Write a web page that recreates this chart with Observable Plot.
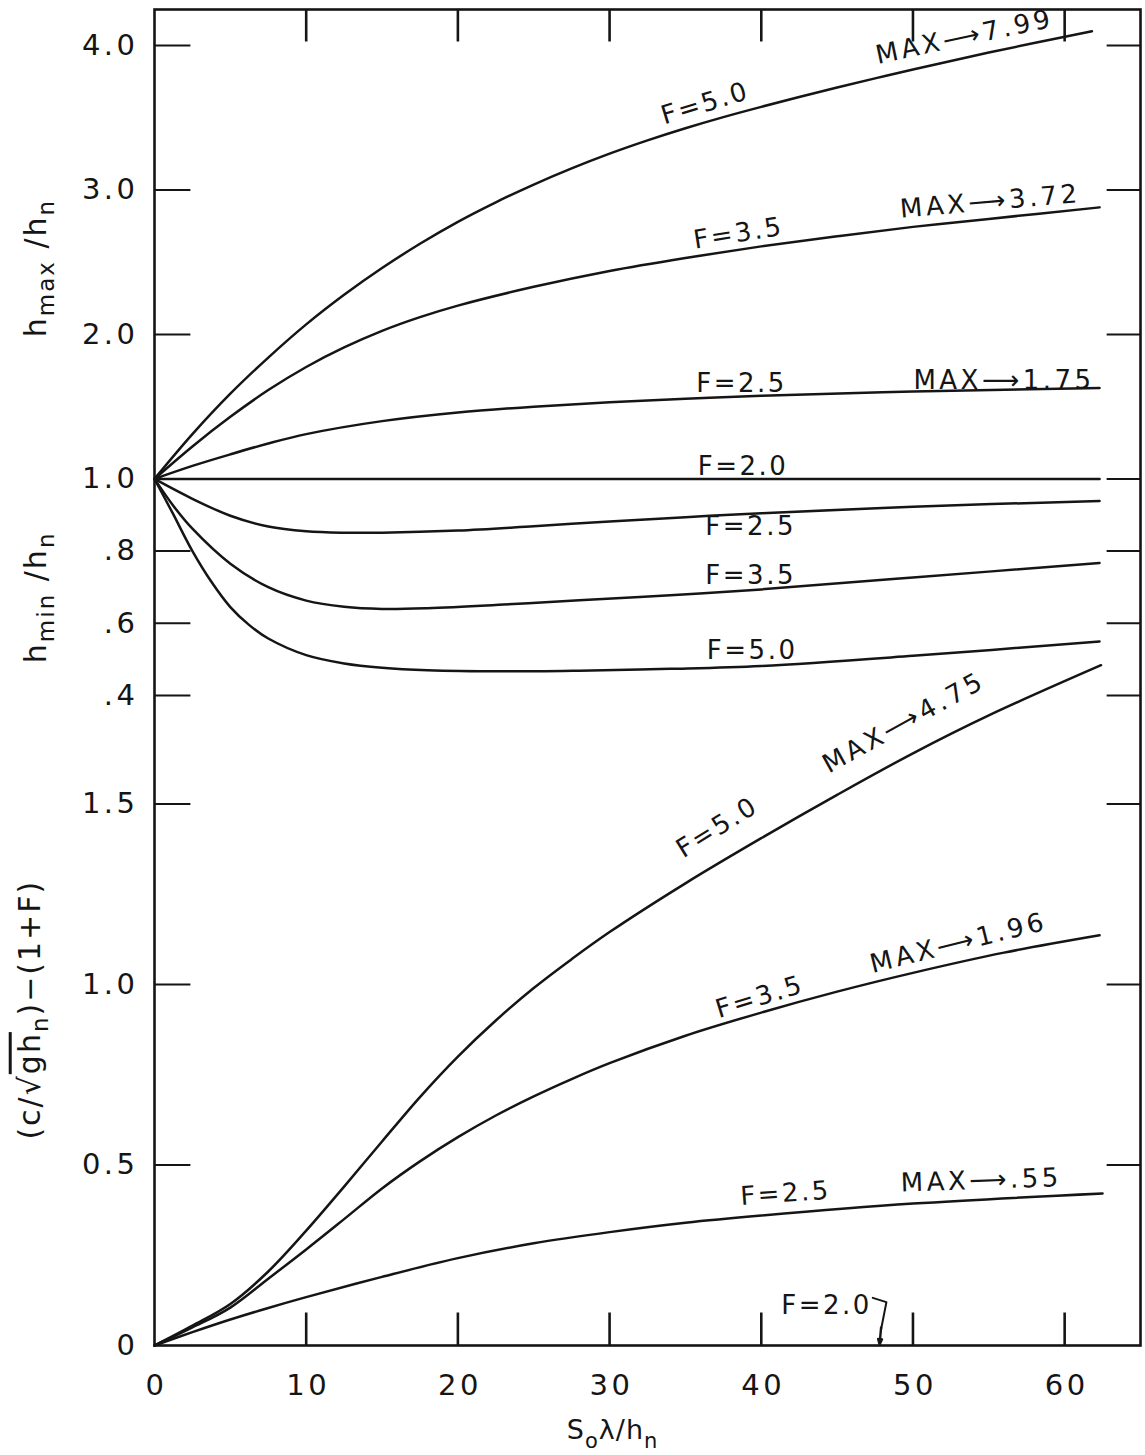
<!DOCTYPE html>
<html>
<head>
<meta charset="utf-8">
<script src="https://cdn.jsdelivr.net/npm/d3@7"></script>
<script src="https://cdn.jsdelivr.net/npm/@observablehq/plot@0.6"></script>
<style>
  html, body { margin: 0; padding: 0; background: #fff; }
  svg { display: block; }
</style>
</head>
<body>
<div id="chart"></div>
<script>
// ---------------- data ----------------
const xTicks = [0, 10, 20, 30, 40, 50, 60];
const xTickLabels = ["0", "10", "20", "30", "40", "50", "60"];

const hmaxTicks = [4.0, 3.0, 2.0, 1.0];
const hmaxTickLabels = ["4.0", "3.0", "2.0", "1.0"];
const hminTicks = [0.8, 0.6, 0.4];
const hminTickLabels = [".8", ".6", ".4"];
const celerityTicks = [1.5, 1.0, 0.5, 0];
const celerityTickLabels = ["1.5", "1.0", "0.5", "0"];

// h_max / h_n  (x = S0*lambda/hn)
const hmaxF50 = [[0,1.0],[2.5,1.31],[5,1.59],[7.5,1.84],[10,2.07],[12.5,2.275],[15,2.46],[17.5,2.628],[20,2.78],[22.5,2.915],[25,3.038],[27.5,3.15],[30,3.252],[32.5,3.344],[35,3.428],[37.5,3.505],[40,3.576],[42.5,3.644],[45,3.71],[47.5,3.773],[50,3.834],[55,3.952],[61.8,4.10]];
const hmaxF35 = [[0,1.0],[2.5,1.225],[5,1.43],[7.5,1.615],[10,1.775],[12.5,1.91],[15,2.025],[17.5,2.12],[20,2.20],[25,2.33],[30,2.44],[35,2.53],[40,2.61],[45,2.68],[50,2.745],[55,2.80],[62.3,2.88]];
const hmaxF25 = [[0,1.0],[2.5,1.09],[5,1.17],[7.5,1.245],[10,1.31],[15,1.40],[20,1.46],[25,1.50],[30,1.53],[35,1.555],[40,1.575],[50,1.605],[62.3,1.63]];
const hmaxF20 = [[0,1.0],[62.3,1.0]];

// h_min / h_n
const hminF25 = [[0,1.0],[2.5,0.945],[5,0.898],[7.5,0.868],[10,0.855],[12.5,0.851],[15,0.851],[20,0.857],[25,0.869],[30,0.882],[35,0.894],[40,0.905],[50,0.923],[62.3,0.939]];
const hminF35 = [[0,1.0],[1.25,0.925],[2.5,0.862],[5,0.765],[7.5,0.70],[10,0.663],[12.5,0.646],[15,0.64],[18,0.642],[23,0.652],[28,0.664],[34,0.678],[40,0.694],[50,0.727],[62.3,0.767]];
const hminF50 = [[0,1.0],[1.2,0.905],[2.5,0.80],[3.75,0.715],[5,0.645],[6.25,0.595],[7.5,0.558],[10,0.512],[12.5,0.489],[15,0.477],[18,0.47],[23,0.467],[28,0.469],[34,0.474],[40,0.482],[50,0.51],[62.3,0.55]];

// (c / sqrt(g hn)) - (1 + F)
const celF50 = [[0,0],[2.5,0.055],[5,0.115],[7.5,0.205],[10,0.318],[12.5,0.44],[15,0.565],[17.5,0.688],[20,0.80],[22.5,0.90],[25,0.99],[27.5,1.07],[30,1.145],[35,1.28],[40,1.405],[45,1.525],[50,1.64],[55,1.745],[62.4,1.884]];
const celF35 = [[0,0],[2.5,0.05],[5,0.105],[7.5,0.185],[10,0.266],[12.5,0.35],[15,0.435],[17.5,0.51],[20,0.577],[22.5,0.637],[25,0.69],[27.5,0.738],[30,0.782],[35,0.858],[40,0.922],[45,0.98],[50,1.032],[56,1.088],[62.3,1.136]];
const celF25 = [[0,0],[2.5,0.037],[5,0.072],[7.5,0.104],[10,0.134],[15,0.19],[20,0.242],[25,0.283],[30,0.314],[35,0.34],[40,0.36],[50,0.393],[62.5,0.421]];

// F=2.0 celerity is zero; its marker points at this abscissa
const celF20Marker = 47.8;

// curve annotations: [text, section, x, value-in-section, rotation]
const annotations = [
  ["F=5.0",     "max", 36.3, 3.60, -17],
  ["MAX\u27F67.99", "max", 53.4, 4.06, -12],
  ["F=3.5",     "max", 38.5, 2.70, -9],
  ["MAX\u27F63.72", "max", 55.1, 2.92, -5],
  ["F=2.5",     "max", 38.7, 1.66, 0],
  ["MAX\u27F61.75", "max", 56.0, 1.68, 0],
  ["F=2.0",     "min", 38.8, 1.035, 0],
  ["F=2.5",     "min", 39.3, 0.868, 0],
  ["F=3.5",     "min", 39.3, 0.733, 0],
  ["F=5.0",     "min", 39.4, 0.525, 0],
  ["F=5.0",     "cel", 37.1, 1.435, -32],
  ["MAX\u27F64.75", "cel", 49.4, 1.725, -29],
  ["F=3.5",     "cel", 39.9, 0.965, -17],
  ["MAX\u27F61.96", "cel", 53.0, 1.115, -14],
  ["F=2.5",     "cel", 41.6, 0.421, -4],
  ["MAX\u27F6.55",  "cel", 54.5, 0.457, -2],
  ["F=2.0",     "cel", 44.3, 0.111, 0]
];

// ------------- section mapping onto one shared vertical scale -------------
const toV = {
  max: h => 2 + 0.4 * h,   // h_max/h_n block (compressed 2.5x)
  min: m => m + 1.4,       // h_min/h_n block
  cel: c => c              // celerity block
};

const series = [
  ["max", "5.0", hmaxF50], ["max", "3.5", hmaxF35], ["max", "2.5", hmaxF25], ["max", "2.0", hmaxF20],
  ["min", "2.5", hminF25], ["min", "3.5", hminF35], ["min", "5.0", hminF50],
  ["cel", "5.0", celF50], ["cel", "3.5", celF35], ["cel", "2.5", celF25]
];
const lineData = series.flatMap(([sec, F, pts]) =>
  pts.map(([x, val]) => ({ id: sec + F, x, v: toV[sec](val) })));

const yLabelData = [
  ...hmaxTicks.map((d, i) => ({ v: toV.max(d), t: hmaxTickLabels[i] })),
  ...hminTicks.map((d, i) => ({ v: toV.min(d), t: hminTickLabels[i] })),
  ...celerityTicks.map((d, i) => ({ v: toV.cel(d), t: celerityTickLabels[i] }))
];
const leftTickV = [
  ...hmaxTicks.filter(d => d !== 1).map(toV.max),
  ...hminTicks.map(toV.min),
  ...celerityTicks.filter(d => d > 0).map(toV.cel)
];
const rightTickV = [
  ...hmaxTicks.map(toV.max),
  ...hminTicks.map(toV.min),
  ...celerityTicks.filter(d => d > 0).map(toV.cel)
];
const innerXTicks = xTicks.filter(d => d > 0);
const annData = annotations.map(([t, sec, x, val, r]) => ({ t, x, v: toV[sec](val), r, big: t.startsWith("MAX") }));

const titles = [
  { key: "T_HMAX", x: -7.8, v: toV.max(2.46) },
  { key: "T_HMIN", x: -7.8, v: toV.min(0.672) },
  { key: "T_CEL",  x: -8.2, v: toV.cel(0.93) }
];

const INK = "#151515";
const FONT = "'DejaVu Sans', 'Liberation Sans', sans-serif";

// letter spacing per text group (applied after render)
const spacing = { ylab: 3.5, xlab: 3.5, flab: 2.5, maxlab: 3.5, ytitle: 2, xtitle: 1 };

const plot = Plot.plot({
  width: 1145,
  height: 1455,
  marginLeft: 154,
  marginRight: 5,
  marginTop: 9,
  marginBottom: 110,
  x: { domain: [0, 65], axis: null },
  y: { domain: [0, 3.7], axis: null },
  style: { fontFamily: FONT, color: INK, background: "white", overflow: "visible" },
  marks: [
    Plot.frame({ stroke: INK, strokeWidth: 2.6 }),
    // inward ticks
    Plot.ruleY(leftTickV, { y: d => d, x1: 0, x2: 2.4, stroke: INK, strokeWidth: 2 }),
    Plot.ruleY(rightTickV, { y: d => d, x1: 62.8, x2: 65, stroke: INK, strokeWidth: 2 }),
    Plot.ruleX(innerXTicks, { x: d => d, y1: 3.7, y2: 3.61, stroke: INK, strokeWidth: 2.6 }),
    Plot.ruleX(innerXTicks, { x: d => d, y1: 0, y2: 0.09, stroke: INK, strokeWidth: 2.6 }),
    // curves
    Plot.line(lineData, { x: "x", y: "v", z: "id", curve: "catmull-rom", stroke: INK, strokeWidth: 2.5 }),
    // F=2.0 pointer
    Plot.line([[47.35, 0.132], [48.25, 0.12], [celF20Marker + 0.1, 0.045]], { x: d => d[0], y: d => d[1], stroke: INK, strokeWidth: 2 }),
    Plot.arrow([{ x1: celF20Marker + 0.1, y1: 0.05, x2: celF20Marker, y2: 0.003 }],
      { x1: "x1", y1: "y1", x2: "x2", y2: "y2", stroke: INK, strokeWidth: 2.4, headLength: 10, headAngle: 40 }),
    // tick labels
    Plot.text(yLabelData, { x: 0, y: "v", text: "t", dx: -16, textAnchor: "end", fontSize: 29, fill: INK, ariaDescription: "ylab" }),
    Plot.text(xTicks, { x: d => d, y: 0, text: (d, i) => xTickLabels[i], dx: 2, dy: 40, fontSize: 29, fill: INK, ariaDescription: "xlab" }),
    // curve annotations
    Plot.text(annData.filter(d => !d.big), { x: "x", y: "v", text: "t", rotate: "r", fontSize: 26, fill: INK, ariaDescription: "flab" }),
    Plot.text(annData.filter(d => d.big), { x: "x", y: "v", text: "t", rotate: "r", fontSize: 26, fill: INK, ariaDescription: "maxlab" }),
    // axis titles (rich text filled in below)
    Plot.text(titles, { x: "x", y: "v", text: "key", rotate: -90, fontSize: 30, fill: INK, ariaDescription: "ytitle" }),
    Plot.text(["T_X"], { x: 30.2, y: 0, text: d => d, dy: 85, fontSize: 27, fill: INK, ariaDescription: "xtitle" })
  ]
});

const svg = d3.select(plot);
Object.entries(spacing).forEach(([k, s]) => {
  svg.selectAll(`[aria-description="${k}"]`).attr("letter-spacing", s);
});

const rich = {
  T_HMAX: 'h<tspan dy="8" font-size="23">max</tspan><tspan dy="-8"> /h</tspan><tspan dy="8" font-size="23">n</tspan>',
  T_HMIN: 'h<tspan dy="8" font-size="23">min</tspan><tspan dy="-8"> /h</tspan><tspan dy="8" font-size="23">n</tspan>',
  T_CEL: '(c/\u221A<tspan style="text-decoration:overline">gh</tspan><tspan dy="8" font-size="23">n</tspan><tspan dy="-8">)\u2212(1+F)</tspan>',
  T_X: 'S<tspan dy="9" font-size="21">o</tspan><tspan dy="-9">\u03BB/h</tspan><tspan dy="9" font-size="21">n</tspan>'
};
svg.selectAll("text").each(function () {
  const k = this.textContent;
  if (rich[k]) this.innerHTML = rich[k];
});

document.getElementById("chart").appendChild(plot);
</script>
</body>
</html>
